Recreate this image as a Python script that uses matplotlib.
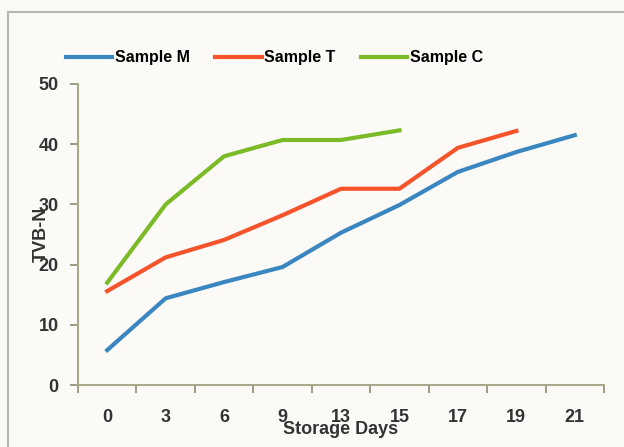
import matplotlib.pyplot as plt
from matplotlib.patches import Rectangle

days = ['0', '3', '6', '9', '13', '15', '17', '19', '21']
sample_m = [5.8, 14.4, 17.1, 19.6, 25.3, 29.9, 35.4, 38.7, 41.5]
sample_t = [15.6, 21.2, 24.1, 28.2, 32.6, 32.6, 39.4, 42.2]
sample_c = [17.0, 30.0, 38.0, 40.7, 40.7, 42.3]

plt.rcParams['font.family'] = ['Liberation Sans', 'DejaVu Sans']

fig = plt.figure(figsize=(6.24, 4.47), dpi=100)
fig.patch.set_facecolor('#fbfaf6')
ax = fig.add_axes([78 / 624, 1 - 385 / 447, 526 / 624, 301 / 447])
ax.set_facecolor('#fbfaf6')

# outer chart frame
fig.add_artist(Rectangle((8 / 624, -0.1), 1.1, 1 - 12 / 447 + 0.1, transform=fig.transFigure,
                         fill=False, edgecolor='#b5b5ad', linewidth=1.5))

ax.plot(range(len(sample_m)), sample_m, color='#3a86c0', lw=3, label='Sample M')
ax.plot(range(len(sample_t)), sample_t, color='#f5532a', lw=3, label='Sample T')
ax.plot(range(len(sample_c)), sample_c, color='#7cbb27', lw=3, label='Sample C')

ax.set_xlim(-0.5, len(days) - 0.5)
ax.set_ylim(0, 50)
ax.set_yticks(range(0, 51, 10))

# Excel-style: tick marks between categories, labels on categories
ax.set_xticks([i - 0.5 for i in range(len(days) + 1)])
ax.set_xticklabels([])
ax.set_xticks(range(len(days)), minor=True)
ax.set_xticklabels(days, minor=True)
ax.tick_params(axis='x', which='major', length=6, color='#8c8c70', width=1.2)
ax.tick_params(axis='x', which='minor', length=0, pad=17, labelsize=13, labelcolor='#333333')
ax.tick_params(axis='y', length=6, color='#8c8c70', width=1.2, labelsize=13, labelcolor='#333333', pad=8)
for lab in ax.get_xticklabels(minor=True) + ax.get_yticklabels():
    lab.set_fontweight('bold')

for s in ['top', 'right']:
    ax.spines[s].set_visible(False)
for s in ['left', 'bottom']:
    ax.spines[s].set_color('#a8a88a')
    ax.spines[s].set_linewidth(1.5)

ax.set_xlabel('Storage Days', fontsize=13, fontweight='bold', color='#333333', labelpad=-3)
ax.set_ylabel('TVB-N', fontsize=13, fontweight='bold', color='#333333', labelpad=-8)

ax.legend(loc='lower left', bbox_to_anchor=(-0.05, 1.015), ncol=3, frameon=False,
          handlelength=2.9, handletextpad=0.15, columnspacing=1.6,
          prop={'weight': 'bold', 'size': 11.5})

fig.savefig('out.png', dpi=100, facecolor=fig.get_facecolor())
